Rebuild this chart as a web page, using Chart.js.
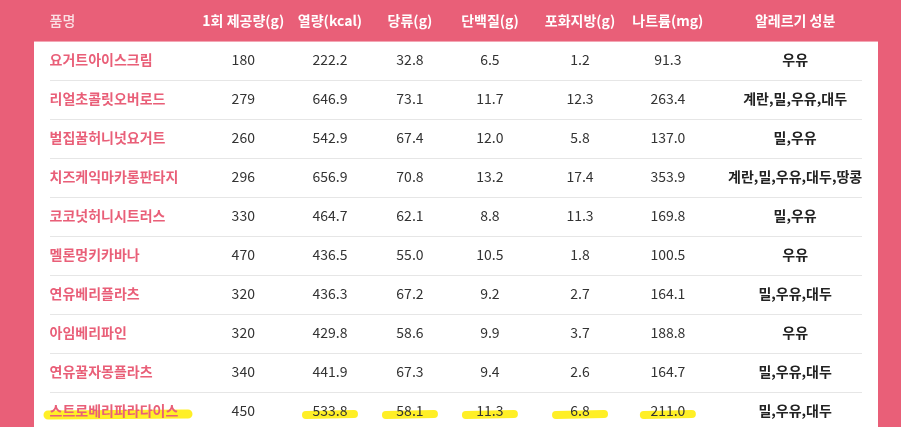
<!DOCTYPE html>
<html><head><meta charset="utf-8">
<script src="https://cdn.jsdelivr.net/npm/chart.js@4/dist/chart.umd.min.js"></script>
<style>html,body{margin:0;padding:0;background:#E95F78}#c{display:block}</style>
</head><body>
<canvas id="c" width="901" height="427"></canvas>
<script>
const headers = ['품명','1회 제공량(g)','열량(kcal)','당류(g)','단백질(g)','포화지방(g)','나트륨(mg)','알레르기 성분'];
const names = ['요거트아이스크림','리얼초콜릿오버로드','벌집꿀허니넛요거트','치즈케익마카롱판타지','코코넛허니시트러스','멜론멍키카바나','연유베리플라츠','아임베리파인','연유꿀자몽플라츠','스트로베리파라다이스'];
const serving = ['180','279','260','296','330','470','320','320','340','450'];
const kcal = ['222.2','646.9','542.9','656.9','464.7','436.5','436.3','429.8','441.9','533.8'];
const sugar = ['32.8','73.1','67.4','70.8','62.1','55.0','67.2','58.6','67.3','58.1'];
const protein = ['6.5','11.7','12.0','13.2','8.8','10.5','9.2','9.9','9.4','11.3'];
const satfat = ['1.2','12.3','5.8','17.4','11.3','1.8','2.7','3.7','2.6','6.8'];
const sodium = ['91.3','263.4','137.0','353.9','169.8','100.5','164.1','188.8','164.7','211.0'];
const allergy = ['우유','계란,밀,우유,대두','밀,우유','계란,밀,우유,대두,땅콩','밀,우유','우유','밀,우유,대두','우유','밀,우유,대두','밀,우유,대두'];
const highlightRow = 9;
const highlightCols = [0,2,3,4,5,6];

const colPos = [0.44,2.16,2.93,3.64,4.35,5.15,5.93,7.06];
const columns = [names,serving,kcal,sugar,protein,satfat,sodium,allergy];
const FONT = '"Noto Sans CJK KR","Noto Sans",sans-serif';

const datasets = columns.map((col,ci)=>({
  label: headers[ci],
  data: col.map((v,ri)=>({x:colPos[ci],y:ri,t:v})),
  pointRadius:0, showLine:false
}));
datasets.push({label:'header',data:headers.map((h,ci)=>({x:colPos[ci],y:-1,t:h})),pointRadius:0});

const tablePlugin = {
  id:'table',
  beforeDraw(chart){
    const {ctx,scales:{x,y}} = chart;
    ctx.save();
    ctx.fillStyle='#E95F78'; ctx.fillRect(0,0,chart.width,chart.height);
    ctx.fillStyle='#fff';
    const top = y.getPixelForValue(-0.5)+1;
    ctx.fillRect(34,top,844,chart.height-top);
    ctx.strokeStyle='#e6e6e6'; ctx.lineWidth=1;
    for(let i=0;i<names.length-1;i++){
      const py=Math.round(y.getPixelForValue(i+0.5))+0.5;
      ctx.beginPath(); ctx.moveTo(50,py); ctx.lineTo(862,py); ctx.stroke();
    }
    // highlighter marks
    ctx.strokeStyle='rgba(255,236,0,0.85)'; ctx.lineCap='round';
    const py=y.getPixelForValue(highlightRow);
    ctx.lineWidth=9;
    ctx.beginPath(); ctx.moveTo(48,py+4); ctx.lineTo(188,py+3); ctx.stroke();
    ctx.lineWidth=8;
    highlightCols.slice(1).forEach(ci=>{
      const cx=x.getPixelForValue(colPos[ci]);
      ctx.beginPath(); ctx.moveTo(cx-24,py+4); ctx.lineTo(cx+24,py+3); ctx.stroke();
    });
    ctx.restore();
  },
  afterDatasetsDraw(chart){
    const {ctx} = chart;
    ctx.save(); ctx.textBaseline='middle';
    chart.data.datasets.forEach((ds,di)=>{
      const meta=chart.getDatasetMeta(di);
      meta.data.forEach((pt,i)=>{
        const d=ds.data[i];
        const isHeader = ds.label==='header';
        const ci = isHeader? i : di;
        if(isHeader){
          ctx.fillStyle = ci===0?'rgba(255,255,255,0.8)':'#fff';
          ctx.font = (ci===0?'500 ':'bold ')+'14px '+FONT;
        } else if(ci===0){
          ctx.fillStyle='#E95F78'; ctx.font='bold 14px '+FONT;
        } else if(ci===7){
          ctx.fillStyle='#222'; ctx.font='bold 14px '+FONT;
        } else {
          ctx.fillStyle='#333'; ctx.font='14px '+FONT;
        }
        ctx.textAlign = ci===0?'left':'center';
        ctx.fillText(d.t, pt.x, pt.y);
      });
    });
    ctx.restore();
  }
};

new Chart(document.getElementById('c'),{
  type:'scatter',
  data:{datasets},
  options:{
    responsive:false, animation:false,
    layout:{padding:0},
    plugins:{legend:{display:false},tooltip:{enabled:false}},
    scales:{
      x:{type:'linear',display:false,min:0,max:8},
      y:{type:'linear',display:false,min:-1.54,max:9.41,reverse:true}
    }
  },
  plugins:[tablePlugin]
});
</script>
</body></html>
